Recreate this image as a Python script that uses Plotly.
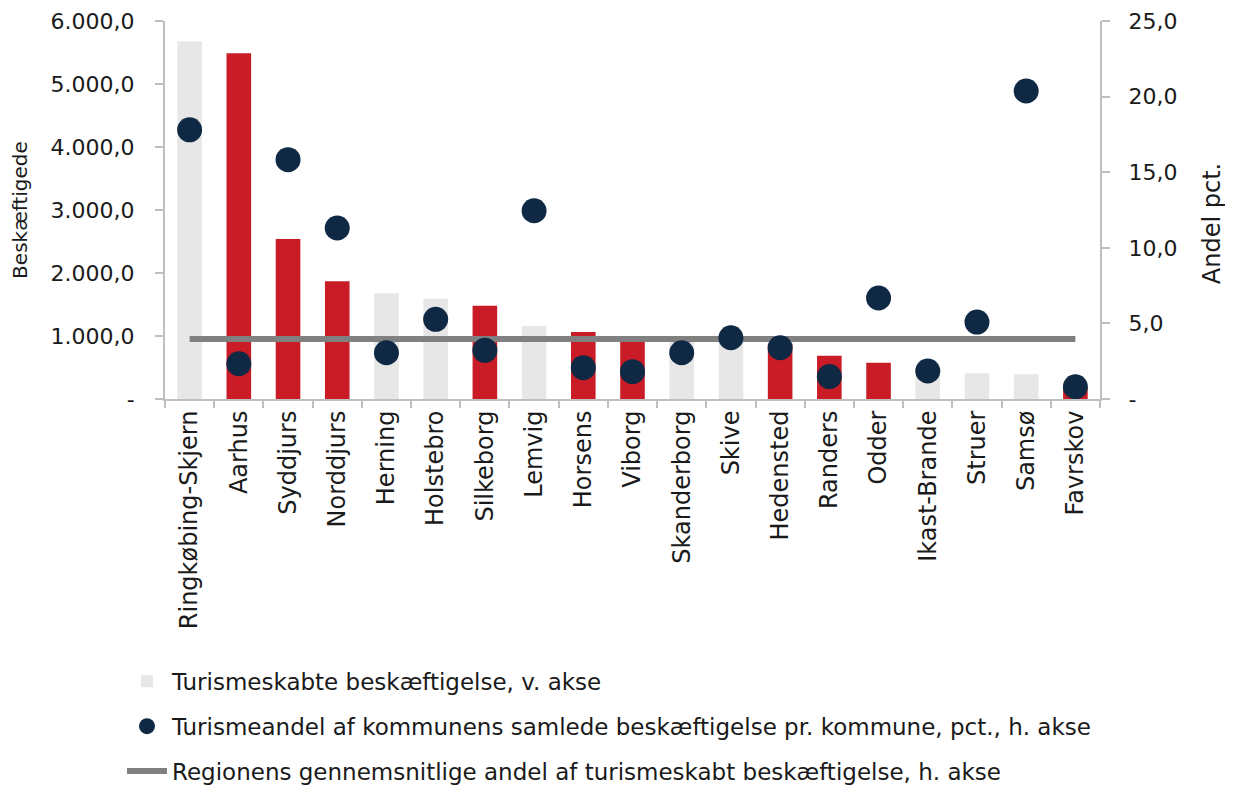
import plotly.graph_objects as go

kommuner = ["Ringkøbing-Skjern", "Aarhus", "Syddjurs", "Norddjurs", "Herning", "Holstebro",
            "Silkeborg", "Lemvig", "Horsens", "Viborg", "Skanderborg", "Skive", "Hedensted",
            "Randers", "Odder", "Ikast-Brande", "Struer", "Samsø", "Favrskov"]
beskaeftigelse = [5680, 5490, 2540, 1870, 1680, 1590, 1480, 1160, 1065, 950, 920, 960, 880,
                  685, 575, 430, 410, 395, 180]
andel_pct = [17.8, 2.33, 15.83, 11.31, 3.06, 5.27, 3.22, 12.45, 2.07, 1.81, 3.06, 4.05, 3.39,
             1.48, 6.68, 1.85, 5.09, 20.37, 0.81]
region_gns = 3.97
fremhaevet = [False, True, True, True, False, False, True, False, True, True, False, False, True,
              True, True, False, False, False, True]

left_ticks = [0, 1000, 2000, 3000, 4000, 5000, 6000]
left_text = ["-", "1.000,0", "2.000,0", "3.000,0", "4.000,0", "5.000,0", "6.000,0"]
right_ticks = [0, 5, 10, 15, 20, 25]
right_text = ["-", "5,0", "10,0", "15,0", "20,0", "25,0"]

RED = "#C91C26"
GRAY = "#E7E7E7"
NAVY = "#0F2944"
LINE = "#808080"
AX = "#BFBFBF"
FONT = "DejaVu Sans"

bar_colors = [RED if f else GRAY for f in fremhaevet]

fig = go.Figure()
fig.add_trace(go.Bar(
    x=kommuner, y=beskaeftigelse, marker=dict(color=bar_colors, line=dict(width=0)),
    name="Turismeskabte beskæftigelse, v. akse", legendgroup="a", legendrank=1, yaxis="y"))
fig.add_trace(go.Scatter(
    x=kommuner, y=[region_gns] * len(kommuner), mode="lines",
    line=dict(color=LINE, width=6),
    name="Regionens gennemsnitlige andel af turismeskabt beskæftigelse, h. akse",
    legendgroup="c", legendrank=3, yaxis="y2"))
fig.add_trace(go.Scatter(
    x=kommuner, y=andel_pct, mode="markers",
    marker=dict(color=NAVY, size=25),
    name="Turismeandel af kommunens samlede beskæftigelse pr. kommune, pct., h. akse",
    legendgroup="b", legendrank=2, yaxis="y2"))

fig.add_annotation(text="Andel pct.", xref="paper", yref="paper", x=1.12, y=0.463,
                   xanchor="center", yanchor="middle", textangle=-90, showarrow=False,
                   font=dict(size=24, family=FONT, color="#1a1a1a"))

fig.update_layout(
    width=1225, height=779,
    margin=dict(l=157, r=133, t=13, b=388, autoexpand=False),
    paper_bgcolor="white", plot_bgcolor="white",
    font=dict(family=FONT, size=22, color="#1a1a1a"),
    bargap=0.5,
    showlegend=True,
    legend=dict(x=-0.046, xanchor="left", y=-0.69, yanchor="top",
                traceorder="grouped", tracegroupgap=12,
                font=dict(size=23), itemsizing="trace", itemwidth=40,
                bgcolor="rgba(0,0,0,0)"),
    xaxis=dict(range=[-0.5, len(kommuner) - 0.5],
               showline=True, linecolor=AX, linewidth=2, ticks="outside",
               tickson="boundaries", tickcolor=AX, ticklen=7, tickwidth=2,
               tickangle=-90, showgrid=False, tickfont=dict(size=24), automargin=False),
    yaxis=dict(range=[0, 6000], tickvals=left_ticks, ticktext=left_text,
               showline=True, linecolor=AX, linewidth=2, ticks="outside",
               tickcolor=AX, ticklen=8, tickwidth=2, showgrid=False, zeroline=False,
               title=dict(text="Beskæftigede", font=dict(size=20), standoff=24),
               ticklabelstandoff=16, automargin=False),
    yaxis2=dict(range=[0, 25], tickvals=right_ticks, ticktext=right_text,
                overlaying="y", side="right", showline=True, linecolor=AX, linewidth=2,
                ticks="outside", tickcolor=AX, ticklen=8, tickwidth=2, showgrid=False,
                zeroline=False, ticklabelstandoff=14, automargin=False),
)

fig.write_html("out.html")
